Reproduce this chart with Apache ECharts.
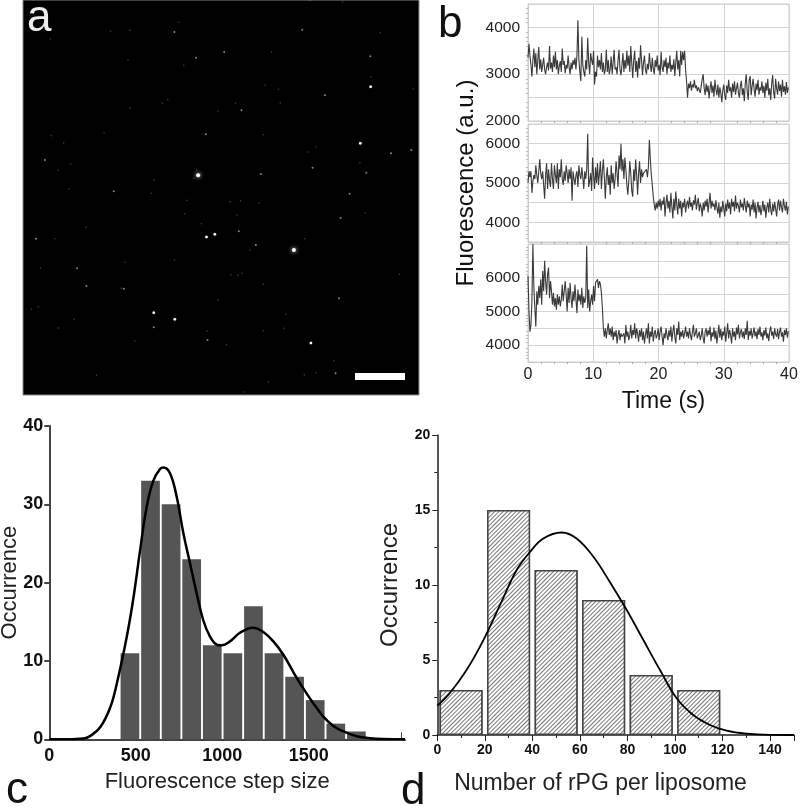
<!DOCTYPE html>
<html><head><meta charset="utf-8">
<style>html,body{margin:0;padding:0;background:#fff}#c{width:800px;height:811px}</style>
<script src="https://cdn.jsdelivr.net/npm/echarts@6/dist/echarts.min.js"></script>
</head><body><div id="c"></div>
<script>
// Panel a: spots in the micrograph
const spotsBig = [[535,528],[822,752]];
const spotsBright = [[560,713],[402,940],[1021,432],[585,705],[465,960],[873,1031],[1052,262]];
const spotsMid = [[847,91],[613,158],[464,98],[529,175],[915,288],[1051,171],[665,333],[558,405],[878,505],[723,524],[989,583],[962,656],[49,718],[172,807],[200,860],[312,868],[402,984],[563,1022],[957,897],[947,1122],[1174,452],[1113,462],[1039,520],[76,482],[282,576],[657,696],[708,737]];
const spotsFaint = [[477,69],[92,119],[272,96],[330,93],[325,181],[492,198],[330,326],[444,301],[428,311],[253,400],[95,409],[132,431],[115,513],[153,494],[403,543],[394,582],[501,603],[495,643],[545,673],[521,537],[531,512],[199,684],[105,718],[316,789],[464,783],[62,805],[304,867],[654,828],[666,822],[633,826],[594,903],[798,944],[793,987],[730,994],[116,986],[345,1025],[230,1128],[853,1126],[889,1120],[942,1084],[746,1148],[672,1178],[620,1036],[730,406],[888,442],[1020,490],[1036,640],[718,611],[662,604],[631,607],[651,647],[690,753],[855,718],[1081,100],[1053,232],[1180,269],[755,158],[870,3],[968,8],[781,311],[736,258],[776,270],[594,335],[647,312],[865,458],[147,568],[1138,825],[56,922],[35,930],[163,960],[730,855],[562,995]];

// Panel b: traces, one sample every 0.15 s
const sampleStep = 0.15;
const trace1 = [3350,3650,3400,3200,2950,3300,3550,3150,3450,3000,3300,3580,3100,3320,3050,3200,3350,3100,3000,3150,
3250,3080,3600,3120,3250,3050,3400,3150,3480,3100,3300,3000,3180,3280,3050,3550,3200,3280,3020,3200,
3120,3400,3150,3000,3250,3100,3300,3200,3350,3100,3400,4150,3300,3050,2850,3800,3200,3050,2950,3300,
3100,3780,3250,3000,3450,3300,3200,3500,2780,3050,2950,3400,3150,3300,3100,3450,3050,3250,3000,3100,
3520,3050,3300,3000,3120,3380,3000,3250,3520,3100,3150,3000,3300,3520,3100,2980,3200,3450,3050,3300,
3120,3500,3180,3400,3050,3600,3250,2920,3300,3500,3050,3280,2930,3350,3120,3620,3300,2980,3250,3400,
3100,3000,3220,3100,3450,3200,3050,3350,3120,3000,3300,3150,3400,3080,3200,2980,3480,3150,3050,3300,
3150,3350,3000,3250,3120,3400,3050,3200,3100,3320,2960,3250,3500,3100,3300,2950,3500,3200,3480,3300,
3500,3100,2850,2500,2800,2700,2850,2650,2780,2720,2880,2700,2760,2640,2720,2680,2600,2750,2900,3000,
2700,2550,2800,2620,2760,2480,2700,2850,2600,2760,2520,2880,2680,2550,2780,2500,2720,2600,2400,2650,
2780,2550,2450,2760,2600,2880,2640,2720,2500,2800,2620,2850,2560,2700,2820,2600,2500,2760,2860,2550,
2700,2420,2800,3000,2620,2450,2880,2960,2550,2750,2900,2680,2520,2800,2660,2880,2560,2720,2650,2850,
2600,2750,2500,2820,2650,2900,2550,2700,2450,2800,2980,2600,2480,2900,2700,2560,2850,2640,2780,2520,
2880,2620,2740,2560,2830,2600,2720];
const trace2 = [5000,5300,5150,5300,4750,5050,5200,5100,5450,5200,5000,5300,5600,5250,5100,5300,4950,4600,5200,5500,
4850,5350,5050,4900,5500,5100,4850,5450,5200,5000,5500,4850,5350,5150,5600,5100,4950,5300,5050,5450,
5250,5000,5350,5100,5400,4550,5300,5100,4950,5200,5300,4900,5450,5200,5100,5400,5150,4850,5300,5100,
5350,6250,4900,5050,5250,4800,5650,5200,4850,5400,5000,5500,4950,5250,5550,4850,5300,5600,5150,4600,
5150,5400,4950,5200,4700,5450,5000,5250,4850,5100,5550,5250,4900,5700,5350,6000,5300,5600,5100,5650,
5350,4950,4700,5050,5550,5250,4800,4650,5350,5050,5600,5200,4700,5250,5550,5000,5350,5150,5250,5300,
5200,5350,5150,5400,6100,5600,5200,4950,4650,4450,4300,4500,4350,4550,4400,4600,4300,4550,4450,4650,
4150,4500,4700,4350,4550,4250,4750,4400,4100,4600,4300,4780,4450,4200,4600,4350,4550,4150,4500,4380,
4600,4250,4450,4550,4350,4650,4400,4500,4300,4560,4450,4700,4320,4500,4620,4280,4480,4380,4150,4500,
4300,4550,4400,4600,4250,4500,4750,4350,4550,4400,4480,4300,4560,4380,4220,4500,4120,4400,4260,4550,
4350,4150,4480,4280,4580,4350,4500,4200,4600,4400,4520,4280,4680,4350,4500,4420,4250,4580,4380,4480,
4300,4620,4420,4250,4550,4380,4480,4150,4450,4320,4580,4250,4500,4100,4380,4520,4250,4440,4180,4350,
4550,4280,4450,4120,4380,4500,4250,4600,4320,4180,4480,4280,4520,4350,4150,4450,4580,4300,4550,4380,
4250,4600,4420,4300,4520,4200,4400];
const trace3 = [6050,5000,4400,4600,5300,7000,5700,5100,4550,5600,5200,5750,5400,5950,5200,6200,5600,6500,5900,5500,
6100,6300,5400,5900,5600,5200,5550,5150,5400,5050,5500,5200,5450,5150,5350,5800,5300,5600,5900,5500,
5000,5700,5250,5850,5400,5100,5600,5300,5800,5350,4950,5650,5300,5500,5200,5700,5100,5450,5250,5400,
6950,5100,5650,5000,5300,5500,5200,5750,5300,5850,5800,5950,5700,5900,5800,5550,5100,4500,4250,4500,
4200,4450,4650,4300,4500,4250,4550,4150,4400,4250,4450,4050,4300,4450,4150,4350,4250,4200,4350,4050,
4600,4250,4400,4150,4300,4600,4200,4450,4300,4650,4200,4500,4350,4100,4450,4250,4500,4150,4400,4050,
4300,4500,4200,4650,4050,4400,4250,4550,4100,4350,4450,4200,4300,4500,4150,4400,4550,4250,4000,4350,
4200,4500,4300,4150,4450,4250,4550,4100,4400,4600,4250,4050,4500,4300,4700,4150,4400,4250,4450,4200,
4350,4550,4250,4400,4200,4500,4300,4150,4400,4600,4250,4350,4500,4200,4300,4400,4150,4280,4500,4200,
4050,4400,4500,4250,4450,4300,4550,4120,4380,4250,4520,4180,4430,4050,4320,4600,4220,4480,4150,4400,
4280,4550,4100,4350,4650,4200,4450,4300,4050,4500,4250,4400,4150,4520,4320,4600,4200,4380,4480,4230,
4400,4180,4500,4300,4720,4150,4420,4280,4500,4200,4350,4520,4260,4400,4180,4480,4300,4550,4250,4380,
4150,4450,4280,4520,4200,4350,4120,4420,4560,4280,4400,4180,4500,4320,4250,4480,4180,4400,4520,4250,
4380,4100,4450,4300,4500,4220,4420];

// Panel c
const stepCenters = [466,585,704,823,942,1061,1180,1299,1418,1537,1656,1775];
const stepCounts = [11,33,30,23,12,11,17,11,8,5,2,1];
const stepCurve = [[0,0],[100,0],[197,0.1],[235,0.4],[293,1.5],[351,4],[389,7],[447,13],[486,18],[524,24],[563,29.7],[601,33],[640,34.5],[659,34.7],[697,34],[736,31],[775,26.3],[813,22.5],[852,18.6],[890,15.2],[929,13.1],[967,12.1],[996,12],[1044,12.5],[1102,13.6],[1179,14.25],[1237,13.7],[1295,12.5],[1353,10.8],[1410,8.6],[1468,6.5],[1526,4.6],[1584,2.9],[1642,1.7],[1699,1],[1776,0.4],[1854,0.13],[1931,0.03],[2056,0]];

// Panel d
const rpgCenters = [10,30,50,70,90,110];
const rpgCounts = [3,15,11,9,4,3];
const rpgCurve = [[0,1.95],[5.3,2.8],[12.3,4.33],[19.4,6.33],[26.4,8.67],[33.4,11],[39,12.2],[44.6,13.1],[52.3,13.5],[58.6,13.1],[65.6,11.9],[72.6,10.2],[79.7,8.33],[86.7,6.33],[93.7,4.33],[100.7,2.45],[107.7,1.33],[114.7,0.67],[121.7,0.29],[130,0.09],[140,0.01],[150,0]];

const FONT = '"Liberation Sans", Arial, sans-serif';
const chart = echarts.init(document.getElementById('c'), null, {renderer:'canvas'});
const plain = v => String(v);

function spot(name, data, size, opacity, color, blur){
  return {name, type:'scatter', xAxisIndex:0, yAxisIndex:0, data, symbolSize:size, silent:true,
    itemStyle:{color, opacity, shadowBlur:blur, shadowColor:'#fff'}};
}
function traceSeries(values, idx){
  return {type:'line', xAxisIndex:idx, yAxisIndex:idx, showSymbol:false, silent:true,
    data:values.map((v,i)=>[i*sampleStep, v]), lineStyle:{color:'#3a3a3a', width:1.1}};
}
function traceX(showLabels){
  return {type:'value', min:0, max:40, interval:10,
    axisLine:{lineStyle:{color:'#ccc',width:1}},
    axisTick:{show:false},
    minorTick:{show:true,splitNumber:5,length:2,lineStyle:{color:'#aaa'}},
    splitLine:{show:true,lineStyle:{color:'#d4d4d4',width:1}},
    axisLabel:{show:showLabels,color:'#222',fontFamily:FONT,fontSize:16,margin:5,formatter:plain},
    name:showLabels?'Time (s)':'', nameLocation:'middle', nameGap:28,
    nameTextStyle:{color:'#111',fontFamily:FONT,fontSize:23,padding:[0,0,0,10]}};
}
function traceY(min,max,labels,name){
  return {type:'value', min, max, interval:500,
    axisLine:{show:true,lineStyle:{color:'#ccc',width:1}},
    axisTick:{show:false},
    minorTick:{show:true,splitNumber:5,length:2,lineStyle:{color:'#bbb'}},
    splitLine:{show:true,lineStyle:{color:'#d4d4d4',width:1}},
    axisLabel:{customValues:labels,color:'#222',fontFamily:FONT,fontSize:15.5,margin:8,formatter:plain},
    name:name||'', nameLocation:'middle', nameGap:50,
    nameTextStyle:{color:'#111',fontFamily:FONT,fontSize:24}};
}
const panelLetter = (t,x,y,fill)=>({type:'text',left:x,top:y,z:20,silent:true,
  style:{text:t,fontFamily:FONT,fontSize:44,fill}});

chart.setOption({
  animation:false,
  backgroundColor:'#fff',
  grid:[
    {left:23,top:0,width:396,height:395,show:true,backgroundColor:'#000',borderColor:'#888',borderWidth:1,outerBoundsMode:'none'},
    {left:528,top:4,width:261,height:117,show:true,borderColor:'#ccc',borderWidth:1,outerBoundsMode:'none'},
    {left:528,top:124,width:261,height:118,show:true,borderColor:'#ccc',borderWidth:1,outerBoundsMode:'none'},
    {left:528,top:244,width:261,height:118,show:true,borderColor:'#ccc',borderWidth:1,outerBoundsMode:'none'},
    {left:49.3,top:426,width:355.7,height:313.3,outerBoundsMode:'none'},
    {left:437.3,top:435,width:356.5,height:300,outerBoundsMode:'none'}
  ],
  xAxis:[
    {gridIndex:0,type:'value',min:10,max:1197,show:false},
    Object.assign(traceX(false),{gridIndex:1}),
    Object.assign(traceX(false),{gridIndex:2}),
    Object.assign(traceX(true),{gridIndex:3}),
    {gridIndex:4,type:'value',min:0,max:2056,splitLine:{show:false},
      axisLine:{onZero:false,lineStyle:{color:'#444',width:2}},
      axisTick:{customValues:[2033],inside:true,length:7,lineStyle:{color:'#444',width:1}},
      axisLabel:{customValues:[0,500,1000,1500],color:'#111',fontFamily:FONT,fontSize:18,fontWeight:'bold',margin:8,formatter:plain},
      name:'Fluorescence step size',nameLocation:'middle',nameGap:32,
      nameTextStyle:{color:'#222',fontFamily:FONT,fontSize:22,padding:[0,20,0,0]}},
    {gridIndex:5,type:'value',min:0,max:150,interval:20,splitLine:{show:false},
      axisLine:{onZero:false,lineStyle:{color:'#222',width:1.5}},
      axisTick:{length:6,lineStyle:{color:'#222',width:1}},
      minorTick:{show:true,splitNumber:2,length:3,lineStyle:{color:'#222'}},
      axisLabel:{color:'#111',fontFamily:FONT,fontSize:14,fontWeight:'bold',margin:8,
        formatter:v=>v>140?'':String(v)},
      name:'Number of rPG per liposome',nameLocation:'middle',nameGap:37,
      nameTextStyle:{color:'#222',fontFamily:FONT,fontSize:23,padding:[0,30,0,0]}}
  ],
  yAxis:[
    {gridIndex:0,type:'value',min:2,max:1187,inverse:true,show:false},
    Object.assign(traceY(2000,4500,[2000,3000,4000]),{gridIndex:1}),
    Object.assign(traceY(3500,6500,[4000,5000,6000],'Fluorescence (a.u.)'),{gridIndex:2}),
    Object.assign(traceY(3500,7000,[4000,5000,6000]),{gridIndex:3}),
    {gridIndex:4,type:'value',min:0,max:40,interval:10,splitLine:{show:false},
      axisLine:{show:true,lineStyle:{color:'#444',width:2}},
      axisTick:{show:true,length:5,lineStyle:{color:'#444',width:2}},
      axisLabel:{color:'#111',fontFamily:FONT,fontSize:18,fontWeight:'bold',margin:6},
      name:'Occurrence',nameLocation:'middle',nameGap:28,nameMoveOverlap:false,
      nameTextStyle:{color:'#222',fontFamily:FONT,fontSize:22}},
    {gridIndex:5,type:'value',min:0,max:20,interval:5,splitLine:{show:false},
      axisLine:{show:true,lineStyle:{color:'#222',width:1.5}},
      axisTick:{show:true,length:5,lineStyle:{color:'#222',width:1}},
      minorTick:{show:true,splitNumber:2,length:3,lineStyle:{color:'#222'}},
      axisLabel:{color:'#111',fontFamily:FONT,fontSize:14,fontWeight:'bold',margin:7},
      name:'Occurrence',nameLocation:'middle',nameGap:35,
      nameTextStyle:{color:'#222',fontFamily:FONT,fontSize:24}}
  ],
  series:[
    spot('faint',spotsFaint,1.5,0.3,'#ddd',0),
    spot('mid',spotsMid,2,0.55,'#eee',0),
    spot('bright',spotsBright,2.5,0.9,'#fff',1),
    spot('big',spotsBig,4,1,'#fff',4),
    traceSeries(trace1,1),
    traceSeries(trace2,2),
    traceSeries(trace3,3),
    {type:'bar',xAxisIndex:4,yAxisIndex:4,barWidth:18.7,silent:true,
      data:stepCenters.map((x,i)=>[x,stepCounts[i]]),itemStyle:{color:'#555'}},
    {type:'line',xAxisIndex:4,yAxisIndex:4,data:stepCurve,smooth:0.4,showSymbol:false,silent:true,
      lineStyle:{color:'#000',width:2.5},z:5},
    {type:'bar',xAxisIndex:5,yAxisIndex:5,barWidth:43,silent:true,
      data:rpgCenters.map((x,i)=>[x,rpgCounts[i]]),
      itemStyle:{color:'#fff',borderColor:'#444',borderWidth:1.5,
        decal:{symbol:'rect',symbolSize:1,color:'#777',backgroundColor:'#fff',
          dashArrayX:[1,0],dashArrayY:[1,2],rotation:-Math.PI/4}}},
    {type:'line',xAxisIndex:5,yAxisIndex:5,data:rpgCurve,smooth:0.4,showSymbol:false,silent:true,
      lineStyle:{color:'#000',width:1.8},z:5}
  ],
  graphic:[
    {type:'rect',left:355,top:373,z:20,silent:true,shape:{width:50,height:7},style:{fill:'#fff'}},
    panelLetter('a',27,-3,'#eee'),
    panelLetter('b',438,3,'#111'),
    panelLetter('c',6,769,'#111'),
    panelLetter('d',401,770,'#111')
  ]
});
</script></body></html>
